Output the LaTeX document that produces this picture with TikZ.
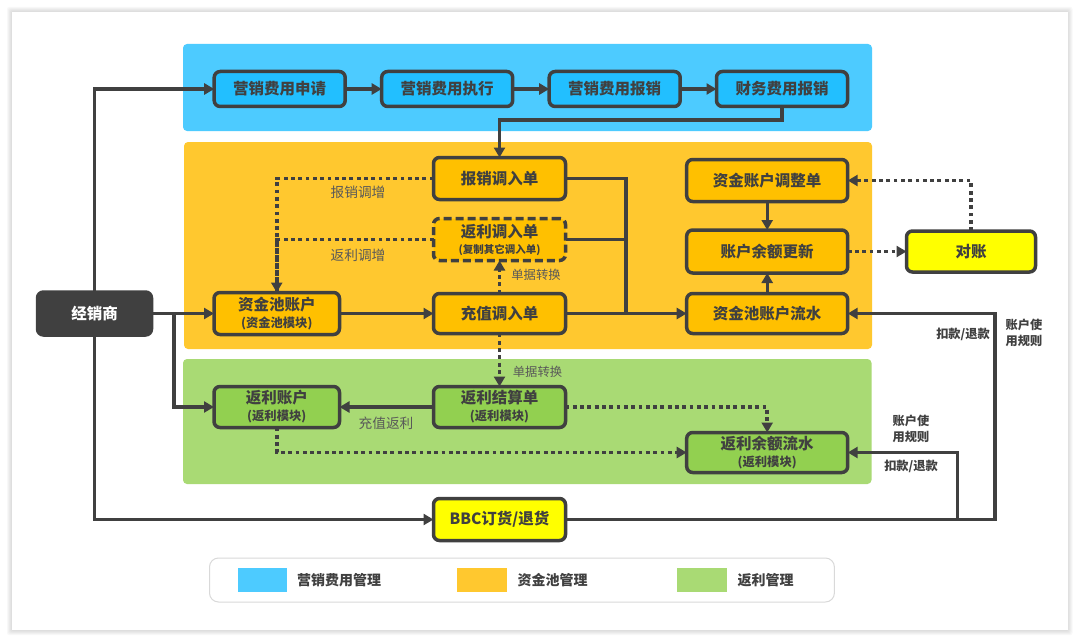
\documentclass[tikz,border=0pt]{standalone}
\usepackage{fontspec}
\setmainfont{Noto Sans CJK SC}
\usetikzlibrary{arrows.meta}
\definecolor{ink}{HTML}{404040}
\definecolor{bandB}{HTML}{4DCBFF}
\definecolor{bandO}{HTML}{FFC82F}
\definecolor{bandG}{HTML}{A9DA74}
\definecolor{boxB}{HTML}{22BFFF}
\definecolor{boxO}{HTML}{FFC000}
\definecolor{boxG}{HTML}{92D050}
\definecolor{boxY}{HTML}{FFFF00}
\definecolor{soft}{HTML}{595959}
\newcommand{\mainsize}{\bfseries\fontsize{15.5}{17}\selectfont}
\newcommand{\subsize}{\bfseries\fontsize{12.3}{14}\selectfont}
\tikzset{
  bx/.style={draw=ink,line width=3.5pt,rounded corners=6pt,inner sep=0pt,outer sep=0pt,
    text=ink,align=center,font=\mainsize},
  wide/.style={bx,minimum width=161pt,minimum height=42pt},
  mid/.style={bx,minimum width=132pt,minimum height=42pt},
  blu/.style={bx,fill=boxB,minimum width=131pt,minimum height=35pt},
  org/.style={fill=boxO},
  grn/.style={fill=boxG},
  band/.style={rounded corners=4pt,draw=none},
  flow/.style={draw=ink,line width=3.3pt,-{Triangle[length=10pt,width=11pt]}},
  flat/.style={draw=ink,line width=3.3pt},
  dot/.style={draw=ink,line width=3.6pt,dash pattern=on 3.8pt off 3.5pt},
  dotflow/.style={dot,-{Triangle[length=10pt,width=11pt]}},
  note/.style={text=soft,font=\fontsize{13.7}{15}\selectfont,inner sep=0pt},
  smallnote/.style={text=soft,font=\fontsize{12.3}{14}\selectfont,inner sep=0pt},
  rule/.style={text=ink,font=\bfseries\fontsize{12.2}{15.5}\selectfont,align=center,inner sep=0pt},
  legendtext/.style={text=ink,font=\bfseries\fontsize{14}{16}\selectfont,inner sep=0pt},
}
\begin{document}
\begin{tikzpicture}[x=1pt,y=-1pt]
\useasboundingbox (0,0) rectangle (1080,642);
% sheet with soft shadow
\foreach \g in {5,4,3,2,1}{
  \fill[black,opacity=0.028,rounded corners=2pt] (12-\g,12-\g) rectangle (1067.5+\g,630+\g);
}
\fill[white] (12,12) rectangle (1067.5,630);
% bands
\fill[band,bandB] (183,44) rectangle (872,131);
\fill[band,bandO] (184,142) rectangle (872,349);
\fill[band,bandG] (183,359) rectangle (871.5,484);
% top row
\node[blu] (sq) at (279.7,89) {营销费用申请};
\node[blu] (zx) at (447.2,89) {营销费用执行};
\node[blu] (bx) at (614.7,89) {营销费用报销};
\node[blu] (cw) at (782,89) {财务费用报销};
% dealer
\node[bx,fill=ink,text=white,minimum width=114pt,minimum height=43pt] (jxs) at (94.5,313.5) {经销商};
% orange
\node[mid,org] (bxd) at (499.5,178.5) {报销调入单};
\node[mid,org,dash pattern=on 8pt off 4pt] (fld) at (499.5,239.5) {返利调入单\\[-1pt]{\bfseries\fontsize{10.5}{12}\selectfont (复制其它调入单)}};
\node[bx,org,minimum width=125.5pt,minimum height=42pt] (zjc) at (276.75,313.5) {资金池账户\\{\subsize (资金池模块)}};
\node[mid,org,minimum height=40pt] (cz) at (499.5,313.5) {充值调入单};
\node[wide,org] (tz) at (767.2,180.5) {资金账户调整单};
\node[wide,org,minimum height=43pt] (ye) at (767.2,251.5) {账户余额更新};
\node[wide,org,minimum height=40pt] (ls) at (767.2,313.5) {资金池账户流水};
\node[bx,fill=boxY,minimum width=129pt,minimum height=41pt] (dz) at (971,251.5) {对账};
% green
\node[bx,grn,minimum width=125.5pt,minimum height=41pt] (fz) at (276.75,407) {返利账户\\{\subsize (返利模块)}};
\node[mid,grn,minimum height=41pt] (js) at (499.5,407) {返利结算单\\{\subsize (返利模块)}};
\node[wide,grn,minimum height=40pt] (yl) at (767.2,452.5) {返利余额流水\\{\subsize (返利模块)}};
\node[bx,fill=boxY,minimum width=132pt,minimum height=42pt] (bbc) at (499.5,519.5) {BBC订货/退货};
% junctions
\coordinate (jA) at (174,313.5);
\coordinate (jB) at (626,313.5);
\coordinate (jC) at (995,519.5);
\coordinate (jD) at (957.7,519.5);
\coordinate (jE) at (499.5,120);
\coordinate (jF) at (782,120);
% connectors
\draw[flow] (sq) -- (zx);
\draw[flow] (zx) -- (bx);
\draw[flow] (bx) -- (cw);
\draw[flow] (jxs.north) |- (sq.west);
\draw[flow] (jxs.south) |- (bbc.west);
\draw[flow] (jxs.east) -- (zjc.west);
\draw[flow] (jA) |- (fz.west);
\draw[flow] (cw.south) -- (jF) -- (jE) -- (bxd.north);
\draw[dot] (fld.west) -| (zjc.north);
\draw[dotflow] (bxd.west) -| (zjc.north);
\draw[flat] (bxd.east) -| (jB);
\draw[flat] (fld.east) -| (jB);
\draw[flow] (cz.east) -- (ls.west);
\draw[flow] (zjc.east) -- (cz.west);
\draw[dotflow] (cz.north) -- (fld.south);
\draw[dotflow] (cz.south) -- (js.north);
\draw[flow] (js.west) -- (fz.east);
\draw[dotflow] (js.east) -| (yl.north);
\draw[dotflow] (fz.south) |- (yl.west);
\draw[flow] (tz.south) -- (ye.north);
\draw[flow] (ls.north) -- (ye.south);
\draw[dotflow] (ye.east) -- (dz.west);
\draw[dotflow] (dz.north) |- (tz.east);
\draw[flow] (bbc.east) -- (jC) |- (ls.east);
\draw[flow] (jD) |- (yl.east);
% labels
\node[note] (n1) at (358,192.7) {报销调增};
\node[note] (n2) at (358,255) {返利调增};
\node[smallnote] (n3) at (536,275) {单据转换};
\node[smallnote] (n4) at (537.5,372) {单据转换};
\node[note] (n5) at (386,423) {充值返利};
\node[rule] (n6) at (963,334) {扣款/退款};
\node[rule] (n7) at (1024,333) {账户使\\用规则};
\node[rule] (n8) at (911,429) {账户使\\用规则};
\node[rule] (n9) at (911,466) {扣款/退款};
% legend
\draw[draw=black!15,fill=white,line width=1pt,rounded corners=9pt] (209.5,558) rectangle (834.4,602);
\fill[bandB] (237.6,568) rectangle (287,592);
\fill[bandO] (457,568) rectangle (507,592);
\fill[bandG] (677,568) rectangle (727,592);
\node[legendtext] (l1) at (339,580) {营销费用管理};
\node[legendtext] (l2) at (552.5,580) {资金池管理};
\node[legendtext] (l3) at (765.5,580) {返利管理};
\end{tikzpicture}
\end{document}
